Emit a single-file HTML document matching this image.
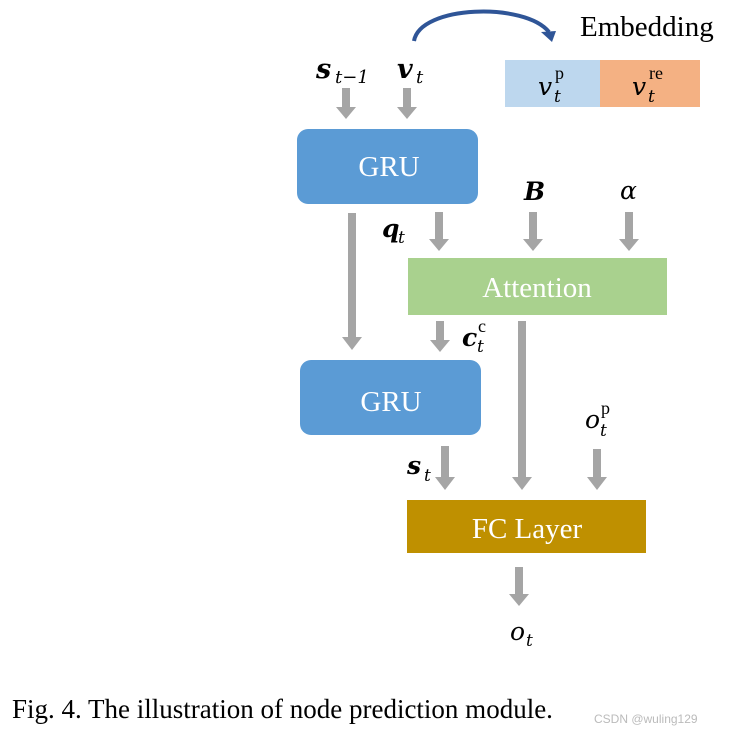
<!DOCTYPE html>
<html><head><meta charset="utf-8"><style>
body{margin:0;background:#fff;width:734px;height:735px;overflow:hidden}
svg{display:block}
.m{font-family:"DejaVu Serif","Liberation Serif",serif;font-style:italic}
.w{font-family:"Liberation Serif",serif;fill:#fff}
</style></head><body>
<svg width="734" height="735" viewBox="0 0 734 735" xmlns="http://www.w3.org/2000/svg">
<defs>
<g id="a"><polygon points="-4,0 4,0 4,-8 9,-8 0,0 -9,-8 -4,-8" fill="#a5a5a5"/></g>
</defs>
<!-- arrows: shaft rect + head -->
<g fill="#a5a5a5">
<rect x="342" y="88" width="8" height="20"/><polygon points="336,107 356,107 346,119"/>
<rect x="403" y="88" width="8" height="20"/><polygon points="397,107 417,107 407,119"/>
<rect x="348" y="213" width="8" height="125"/><polygon points="342,337 362,337 352,350"/>
<rect x="435" y="212" width="8" height="28"/><polygon points="429,239 449,239 439,251"/>
<rect x="529" y="212" width="8" height="28"/><polygon points="523,239 543,239 533,251"/>
<rect x="625" y="212" width="8" height="28"/><polygon points="619,239 639,239 629,251"/>
<rect x="436" y="321" width="8" height="20"/><polygon points="430,340 450,340 440,352"/>
<rect x="518" y="321" width="8" height="157"/><polygon points="512,477 532,477 522,490"/>
<rect x="441" y="446" width="8" height="32"/><polygon points="435,477 455,477 445,490"/>
<rect x="593" y="449" width="8" height="29"/><polygon points="587,477 607,477 597,490"/>
<rect x="515" y="567" width="8" height="28"/><polygon points="509,594 529,594 519,606"/>
</g>
<!-- curved arrow -->
<path d="M414,41 C420,5 525,2 549,32" fill="none" stroke="#2f5597" stroke-width="4"/>
<polygon points="541,32 556,31 552,42" fill="#2f5597"/>
<text x="580" y="36" font-family="Liberation Serif,serif" font-size="29">Embedding</text>
<rect x="505" y="60" width="95" height="47" fill="#bdd7ee"/>
<rect x="600" y="60" width="100" height="47" fill="#f4b183"/>
<text x="538" y="95" class="m" font-size="25">v</text><text x="554" y="102" class="m" font-size="17">t</text><text x="555" y="79" font-family="Liberation Serif,serif" font-size="18">p</text>
<text x="632" y="95" class="m" font-size="25">v</text><text x="648" y="102" class="m" font-size="17">t</text><text x="649" y="79" font-family="Liberation Serif,serif" font-size="18">re</text>
<text x="316" y="78" class="m" font-size="27" font-weight="bold">s</text><text x="335" y="83" class="m" font-size="18">t−1</text>
<text x="397" y="78" class="m" font-size="27" font-weight="bold">v</text><text x="416" y="83" class="m" font-size="18">t</text>
<rect x="297" y="129" width="181" height="75" rx="11" fill="#5b9bd5"/>
<text x="389" y="176" class="w" font-size="29" text-anchor="middle">GRU</text>
<text x="382" y="237" class="m" font-size="25" font-weight="bold">q</text><text x="398" y="243" class="m" font-size="17">t</text>
<text x="524" y="200" class="m" font-size="25" font-weight="bold">B</text>
<text x="620" y="199" class="m" font-size="25">α</text>
<rect x="408" y="258" width="259" height="57" fill="#a9d18e"/>
<text x="537" y="297" class="w" font-size="29" text-anchor="middle">Attention</text>
<text x="462" y="346" class="m" font-size="25" font-weight="bold">c</text><text x="477" y="352" class="m" font-size="17">t</text><text x="478" y="332" font-family="Liberation Serif,serif" font-size="18">c</text>
<rect x="300" y="360" width="181" height="75" rx="11" fill="#5b9bd5"/>
<text x="391" y="411" class="w" font-size="29" text-anchor="middle">GRU</text>
<text x="585" y="428" class="m" font-size="25">o</text><text x="600" y="436" class="m" font-size="17">t</text><text x="601" y="414" font-family="Liberation Serif,serif" font-size="18">p</text>
<text x="407" y="474" class="m" font-size="25" font-weight="bold">s</text><text x="424" y="481" class="m" font-size="17">t</text>
<rect x="407" y="500" width="239" height="53" fill="#bf9000"/>
<text x="527" y="538" class="w" font-size="29" text-anchor="middle">FC Layer</text>
<text x="510" y="640" class="m" font-size="25">o</text><text x="526" y="646" class="m" font-size="17">t</text>
<text x="12" y="718" font-family="Liberation Serif,serif" font-size="27">Fig. 4.  The illustration of node prediction module.</text>
<text x="594" y="723" font-family="Liberation Sans,sans-serif" font-size="12" fill="#bbb">CSDN @wuling129</text>
</svg>
</body></html>
